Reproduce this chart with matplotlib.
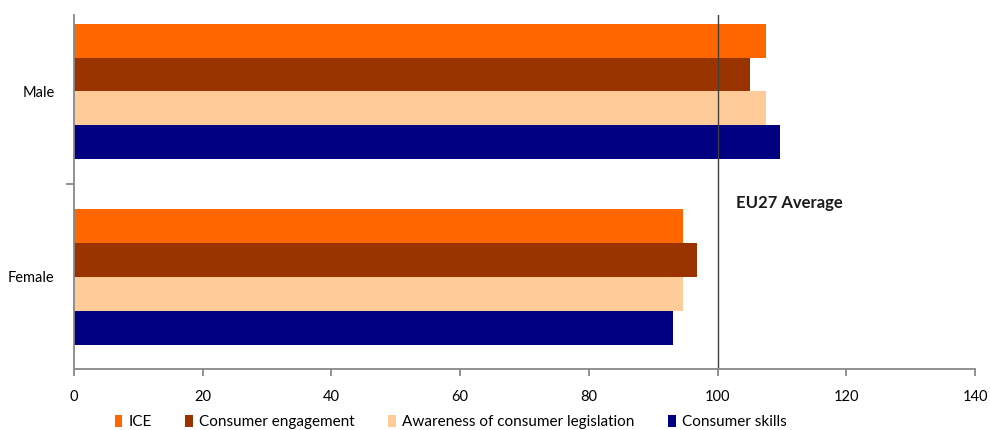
import matplotlib.pyplot as plt
from matplotlib.patches import Patch

plt.rcParams['font.family'] = ['Lato', 'DejaVu Sans']

groups = ['Female', 'Male']
series = ['ICE', 'Consumer engagement', 'Awareness of consumer legislation', 'Consumer skills']
values = {
    'ICE': [94.7, 107.6],
    'Consumer engagement': [96.8, 105.1],
    'Awareness of consumer legislation': [94.7, 107.6],
    'Consumer skills': [93.0, 109.7],
}
colors = ['#FF6600', '#993300', '#FFCC99', '#000080']
eu_avg = 100

fig = plt.figure(figsize=(9.9, 4.3), dpi=100)
ax = fig.add_axes([74 / 990, 61 / 430, 901 / 990, 354 / 430])

h = 0.182
offsets = [1.5, 0.5, -0.5, -1.5]
for name, col, off in zip(series, colors, offsets):
    ys = [i + off * h for i in range(len(groups))]
    ax.barh(ys, values[name], height=h, color=col, linewidth=0)

ax.axvline(eu_avg, color='#404040', linewidth=1)
ax.text(102.9, 0.4, 'EU27 Average', fontsize=12, fontweight='bold',
        color='#1a1a1a', va='center', ha='left')

ax.set_xlim(0, 140)
ax.set_ylim(-0.496, 1.412)
ax.set_xticks(range(0, 141, 20))
ax.set_yticks(range(len(groups)))
ax.set_yticklabels(groups)
ax.set_yticks([0.5], minor=True)
ax.tick_params(axis='y', which='major', length=0, pad=14, labelsize=10.5)
ax.tick_params(axis='y', which='minor', length=6, width=1.3, color='#888888')
ax.tick_params(axis='x', length=5, width=1.3, color='#888888', pad=10, labelsize=10.5)

for s in ['top', 'right']:
    ax.spines[s].set_visible(False)
for s in ['left', 'bottom']:
    ax.spines[s].set_color('#888888')
    ax.spines[s].set_linewidth(1.3)

handles = [Patch(facecolor=c, edgecolor='none') for c in colors]
fig.legend(handles, series, loc='center', bbox_to_anchor=(0.455, 0.018),
           ncol=4, frameon=False, fontsize=11, handlelength=0.5,
           handleheight=0.8, handletextpad=0.4, columnspacing=2.2)

fig.savefig('out.png', dpi=100)
